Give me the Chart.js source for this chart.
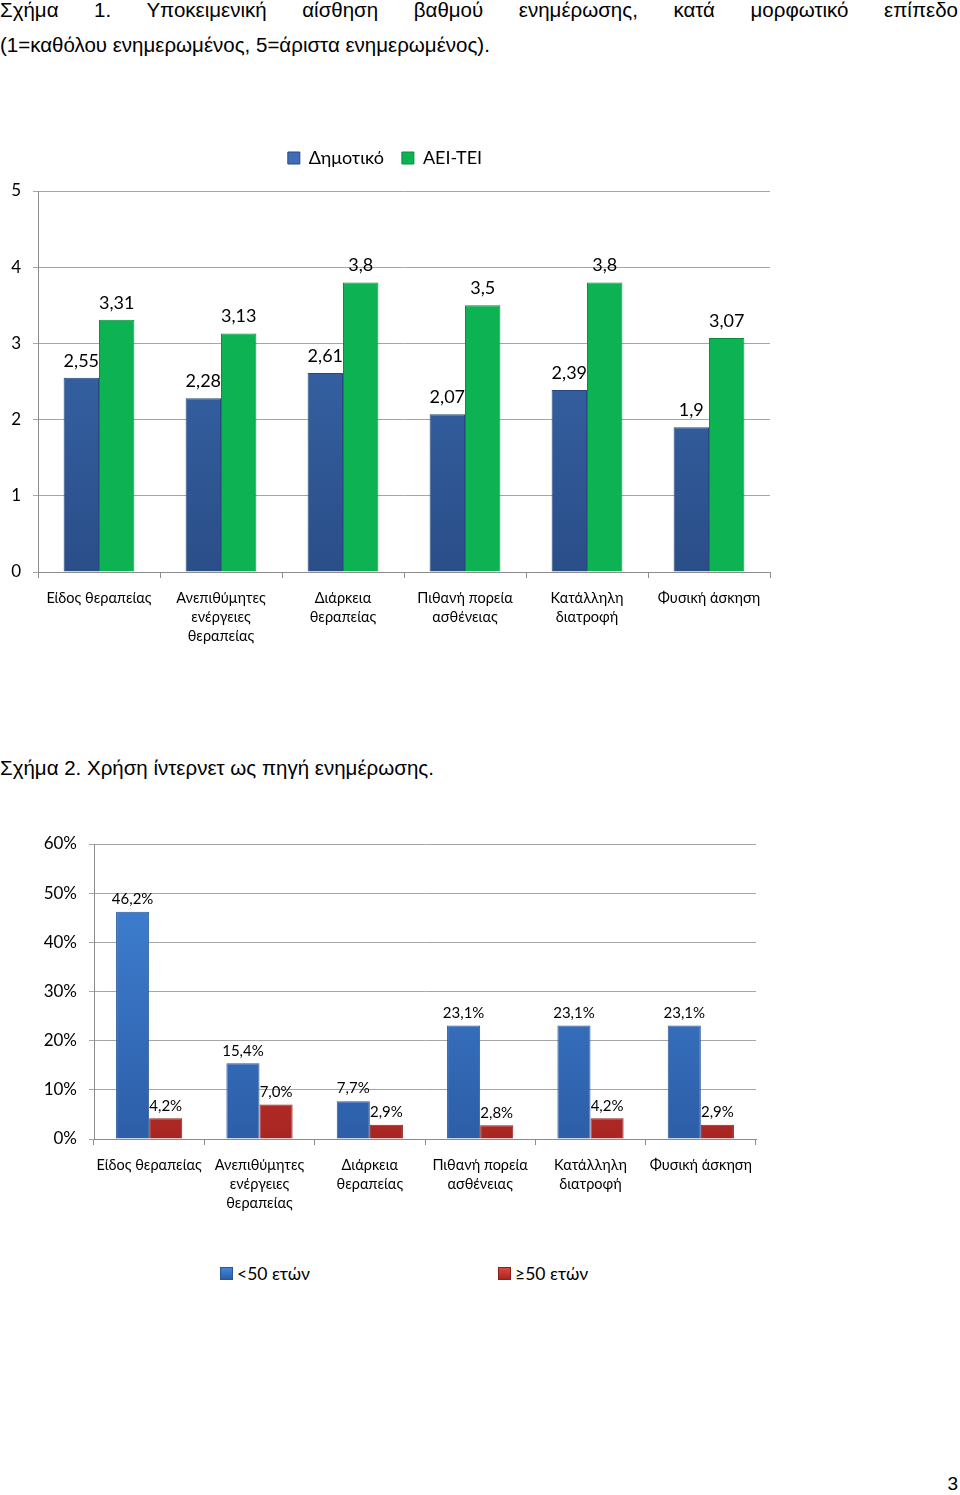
<!DOCTYPE html>
<html>
<head>
<meta charset="utf-8">
<script src="https://cdn.jsdelivr.net/npm/chart.js@4.4.1/dist/chart.umd.min.js"></script>
<style>
  body { margin: 0; background: #fff; width: 960px; height: 1495px; position: relative; overflow: hidden; }
  .txt { position: absolute; font-family: "Liberation Sans", Arial, sans-serif; font-size: 20.5px; color: #000; }
  #t1 { left: 0; top: -2px; width: 958px; text-align: justify; text-align-last: justify; }
  #t2 { left: 0; top: 33px; }
  #t3 { left: 0; top: 756px; }
  #pg { right: 2px; top: 1473px; font-size: 19px; }
  #box1 { position: absolute; left: 0; top: 131px; width: 790px; height: 529px; }
  #box2 { position: absolute; left: 0; top: 820px; width: 806px; height: 410px; }
  #legend2 { position: absolute; left: 220px; top: 1263px; display: flex; gap: 188px;
             font-family: Lato, "Open Sans", sans-serif; font-size: 17.5px; color: #000; }
  #legend2 span.item { display: flex; align-items: center; }
  #legend2 i { display: inline-block; width: 11px; height: 11px; margin-right: 4px; }
</style>
</head>
<body>
<div class="txt" id="t1">Σχήμα 1. Υποκειμενική αίσθηση βαθμού ενημέρωσης, κατά μορφωτικό επίπεδο</div>
<div class="txt" id="t2">(1=καθόλου ενημερωμένος, 5=άριστα ενημερωμένος).</div>
<div class="txt" id="t3">Σχήμα 2. Χρήση ίντερνετ ως πηγή ενημέρωσης.</div>
<div class="txt" id="pg">3</div>

<div id="box1"><canvas id="chart1"></canvas></div>
<div id="box2"><canvas id="chart2"></canvas></div>
<div id="legend2"></div>

<script>
// κατηγορίες (κοινές και στα δύο σχήματα)
const categories = [
    'Είδος θεραπείας',
    ['Ανεπιθύμητες', 'ενέργειες', 'θεραπείας'],
    ['Διάρκεια', 'θεραπείας'],
    ['Πιθανή πορεία', 'ασθένειας'],
    ['Κατάλληλη', 'διατροφή'],
    'Φυσική άσκηση'
];

// Σχήμα 1
const dimotiko = [2.55, 2.28, 2.61, 2.07, 2.39, 1.9];
const aeiTei = [3.31, 3.13, 3.8, 3.5, 3.8, 3.07];
const scale1Ticks = [0, 1, 2, 3, 4, 5];

// Σχήμα 2
const under50 = [46.2, 15.4, 7.7, 23.1, 23.1, 23.1];
const over50 = [4.2, 7.0, 2.9, 2.8, 4.2, 2.9];
const scale2Ticks = [0, 10, 20, 30, 40, 50, 60];

const FONT = 'Lato, "Open Sans", sans-serif';

function grad(top, bottom) {
    return function(context) {
        const chart = context.chart;
        const area = chart.chartArea;
        if (!area) return top;
        const g = chart.ctx.createLinearGradient(0, area.top, 0, area.bottom);
        g.addColorStop(0, top);
        g.addColorStop(1, bottom);
        return g;
    };
}

// ετικέτες τιμών πάνω από τις μπάρες
const valueLabels = {
    id: 'valueLabels',
    afterDatasetsDraw(chart, args, opts) {
        const ctx = chart.ctx;
        ctx.save();
        ctx.font = opts.size + 'px ' + FONT;
        ctx.fillStyle = '#000';
        ctx.textAlign = 'center';
        ctx.textBaseline = 'bottom';
        chart.data.datasets.forEach((ds, i) => {
            chart.getDatasetMeta(i).data.forEach((bar, j) => {
                ctx.fillText(opts.format(ds.data[j]), bar.x, bar.y - opts.offset);
            });
        });
        ctx.restore();
    }
};

// λίγο περισσότερος χώρος κάτω από το υπόμνημα
const legendGap = {
    id: 'legendGap',
    beforeInit(chart) {
        const fit = chart.legend.fit;
        chart.legend.fit = function() {
            fit.bind(chart.legend)();
            this.height += 14;
        };
    }
};

function yAxis(ticksList, width, fmt) {
    return {
        min: ticksList[0],
        max: ticksList[ticksList.length - 1],
        afterBuildTicks: s => { s.ticks = ticksList.map(v => ({ value: v })); },
        afterFit: s => { s.width = width; },
        border: { color: '#8c8c8c' },
        grid: { color: '#a6a6a6', tickLength: 5 },
        ticks: { autoSkip: false, padding: 12, color: '#000', font: { family: FONT, size: 17 }, callback: fmt }
    };
}

function xAxis(height) {
    return {
        afterFit: s => { s.height = height; },
        border: { color: '#8c8c8c' },
        grid: { drawOnChartArea: false, color: '#8c8c8c', tickLength: 6 },
        ticks: { padding: 11, color: '#000', maxRotation: 0, autoSkip: false, font: { family: FONT, size: 14.5, lineHeight: 1.3 } }
    };
}

new Chart(document.getElementById('chart1'), {
    type: 'bar',
    data: {
        labels: categories,
        datasets: [{
            label: 'Δημοτικό',
            data: dimotiko,
            backgroundColor: grad('#3d6fb6', '#2a4e88'),
            borderColor: '#27497f',
            borderWidth: 1
        }, {
            label: 'ΑΕΙ-ΤΕΙ',
            data: aeiTei,
            backgroundColor: '#0db352',
            borderColor: '#0a8d3f',
            borderWidth: 1
        }]
    },
    options: {
        responsive: true,
        maintainAspectRatio: false,
        animation: false,
        layout: { padding: { top: 0, right: 20, left: 0, bottom: 0 } },
        datasets: { bar: { categoryPercentage: 0.58, barPercentage: 1 } },
        scales: {
            x: xAxis(88),
            y: yAxis(scale1Ticks, 38, v => v)
        },
        plugins: {
            legend: {
                position: 'top',
                labels: { boxWidth: 12, boxHeight: 12, padding: 18, color: '#000', font: { family: FONT, size: 18 } }
            },
            tooltip: { enabled: false },
            valueLabels: { size: 18, offset: 8, format: v => String(v).replace('.', ',') }
        }
    },
    plugins: [valueLabels, legendGap]
});

const series2 = [
    { label: '<50 ετών', data: under50, top: '#4185d8', bottom: '#2d5ea8', border: '#2a5698' },
    { label: '≥50 ετών', data: over50, top: '#dc4540', bottom: '#a82622', border: '#8e1f1c' }
];

const chart2 = new Chart(document.getElementById('chart2'), {
    type: 'bar',
    data: {
        labels: categories,
        datasets: series2.map(s => ({
            label: s.label,
            data: s.data,
            backgroundColor: grad(s.top, s.bottom),
            borderColor: s.border,
            borderWidth: 1
        }))
    },
    options: {
        responsive: true,
        maintainAspectRatio: false,
        animation: false,
        layout: { padding: { top: 24, right: 50, left: 0, bottom: 0 } },
        datasets: { bar: { categoryPercentage: 0.6, barPercentage: 1 } },
        scales: {
            x: xAxis(91),
            y: yAxis(scale2Ticks, 94, v => v + '%')
        },
        plugins: {
            legend: { display: false },
            tooltip: { enabled: false },
            valueLabels: { size: 15, offset: 5, format: v => v.toFixed(1).replace('.', ',') + '%' }
        }
    },
    plugins: [valueLabels]
});

// υπόμνημα κάτω από το σχήμα 2
const legendEl = document.getElementById('legend2');
chart2.data.datasets.forEach((ds, i) => {
    const item = document.createElement('span');
    item.className = 'item';
    const sw = document.createElement('i');
    sw.style.background = 'linear-gradient(' + series2[i].top + ',' + series2[i].bottom + ')';
    sw.style.border = '1px solid ' + series2[i].border;
    item.appendChild(sw);
    item.appendChild(document.createTextNode(ds.label));
    legendEl.appendChild(item);
});
</script>
</body>
</html>
